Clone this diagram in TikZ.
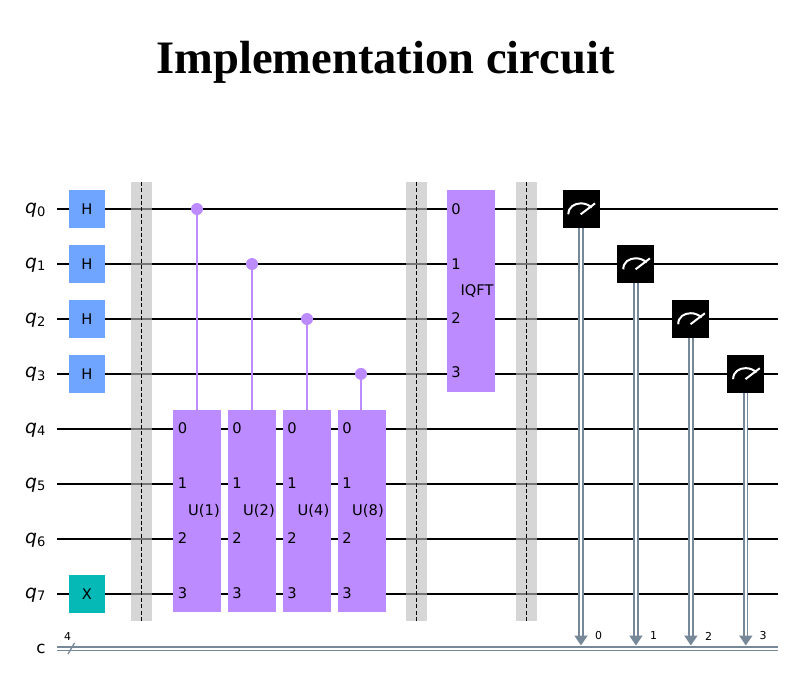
\documentclass[tikz,border=0pt]{standalone}
\usepackage{xcolor}
\usepackage{fontspec}
\usetikzlibrary{arrows.meta}
\setmainfont{DejaVu Sans}
\newfontfamily\titlefont{Liberation Serif}
\definecolor{QHadamard}{HTML}{6FA4FF}
\definecolor{QNot}{HTML}{05BAB6}
\definecolor{QCustom}{HTML}{BB8BFF}
\definecolor{QBarrier}{HTML}{BDBDBD}
\definecolor{QClassical}{HTML}{778899}
\tikzset{
    wire/.style={black, line width=1.6pt},
    classical/.style={QClassical, line width=1.45pt, double=white, double distance=1.05pt},
    qlabel/.style={anchor=east, inner xsep=8pt, inner ysep=0pt, text height=10pt, text depth=4pt, font=\fontsize{14}{16}\selectfont},
    gatebox/.style={minimum width=27pt, minimum height=28.5pt, inner sep=0pt, font=\fontsize{11}{13}\selectfont},
    ubox/.style={fill=QCustom, minimum width=36pt, minimum height=151.5pt, inner sep=0pt},
    port/.style={inner sep=0pt, font=\fontsize{11}{13}\selectfont},
    ctrldot/.style={circle, fill=QCustom, minimum size=9pt, inner sep=0pt},
    ctrlline/.style={QCustom, line width=2pt},
    barrier/.style={fill=QBarrier, fill opacity=0.62, minimum width=15.75pt, minimum height=329.25pt, inner sep=0pt},
    barrierline/.style={black, line width=0.9pt, dash pattern=on 3pt off 1.8pt},
    meterbox/.style={fill=black, minimum width=27.75pt, minimum height=28.5pt, inner sep=0pt,
        path picture={\draw[white, line width=1.5pt] ([shift={(-9.5pt,-4pt)}]path picture bounding box.center)
                .. controls ([shift={(-9.5pt,1.5pt)}]path picture bounding box.center) and ([shift={(-5pt,4.25pt)}]path picture bounding box.center) .. ([shift={(0pt,4.25pt)}]path picture bounding box.center)
                .. controls ([shift={(3pt,4.25pt)}]path picture bounding box.center) and ([shift={(6pt,3pt)}]path picture bounding box.center) .. ([shift={(8pt,1pt)}]path picture bounding box.center);
            \draw[white, line width=1.5pt] ([shift={(-0.25pt,-4pt)}]path picture bounding box.center) -- ([shift={(10.5pt,4.2pt)}]path picture bounding box.center);}},
    measline/.style={classical, -{Triangle[width=9.75pt, length=7.5pt]}},
    smalltext/.style={inner sep=0pt, font=\fontsize{8.2}{10}\selectfont}
}
\begin{document}
\begin{tikzpicture}[x=0.75pt, y=-0.75pt, node distance=41.2pt]
    \useasboundingbox (0,0) rectangle (792,675);

    \node (title) at (385.5,62) [inner sep=0pt, font=\titlefont\bfseries\fontsize{34.9}{40}\selectfont] {Implementation circuit};

    % qubit labels
    \node (q0) [qlabel] at (57,209) {\textit{q}\textsubscript{0}};
    \node (q1) [qlabel] at (57,264) {\textit{q}\textsubscript{1}};
    \node (q2) [qlabel] at (57,319) {\textit{q}\textsubscript{2}};
    \node (q3) [qlabel] at (57,373.9) {\textit{q}\textsubscript{3}};
    \node (q4) [qlabel] at (57,429) {\textit{q}\textsubscript{4}};
    \node (q5) [qlabel] at (57,484) {\textit{q}\textsubscript{5}};
    \node (q6) [qlabel] at (57,539) {\textit{q}\textsubscript{6}};
    \node (q7) [qlabel] at (57,594) {\textit{q}\textsubscript{7}};
    \node (c) [inner sep=0pt, font=\fontsize{12.5}{15}\selectfont] at (41,649) {c};

    % wire ends
    \coordinate (q0end) at (778,209);
    \coordinate (q1end) at (778,264);
    \coordinate (q2end) at (778,319);
    \coordinate (q3end) at (778,373.9);
    \coordinate (q4end) at (778,429);
    \coordinate (q5end) at (778,484);
    \coordinate (q6end) at (778,539);
    \coordinate (q7end) at (778,594);
    \coordinate (cstart) at (57,648.8);
    \coordinate (cend) at (778,648.8);

    \draw[wire] (q0.east) -- (q0end);
    \draw[wire] (q1.east) -- (q1end);
    \draw[wire] (q2.east) -- (q2end);
    \draw[wire] (q3.east) -- (q3end);
    \draw[wire] (q4.east) -- (q4end);
    \draw[wire] (q5.east) -- (q5end);
    \draw[wire] (q6.east) -- (q6end);
    \draw[wire] (q7.east) -- (q7end);
    \draw[classical] (cstart) -- (cend);

    % classical register width
    \coordinate (slashbottom) at (68,654);
    \coordinate (slashtop) at (74.5,643);
    \draw[QClassical, line width=1pt] (slashbottom) -- (slashtop);
    \node (cwidth) [smalltext] at (67.5,636.5) {4};

    % gates
    \node (H0) [gatebox, fill=QHadamard] at (87,209) {H};
    \node (H1) [gatebox, fill=QHadamard, below of=H0] {H};
    \node (H2) [gatebox, fill=QHadamard, below of=H1] {H};
    \node (H3) [gatebox, fill=QHadamard, below of=H2] {H};
    \node (X7) [gatebox, fill=QNot] at (87,594) {X};

    % controlled unitaries
    \node (U1) [ubox] at (197,511) {};
    \node (U2) [ubox, right of=U1] {};
    \node (U3) [ubox, right of=U2] {};
    \node (U4) [ubox, right of=U3] {};
    \node (ctrl0) [ctrldot] at (197,209) {};
    \node (ctrl1) [ctrldot] at (252,264) {};
    \node (ctrl2) [ctrldot] at (307,319) {};
    \node (ctrl3) [ctrldot] at (361,373.9) {};
    \draw[ctrlline] (ctrl0) -- (ctrl0 |- U1.north);
    \draw[ctrlline] (ctrl1) -- (ctrl1 |- U2.north);
    \draw[ctrlline] (ctrl2) -- (ctrl2 |- U3.north);
    \draw[ctrlline] (ctrl3) -- (ctrl3 |- U4.north);

    \node (U1p0) [port] at (182.5,428.5) {0};
    \node (U1p1) [port] at (182.5,483.5) {1};
    \node (U1p2) [port] at (182.5,538.5) {2};
    \node (U1p3) [port] at (182.5,593.5) {3};
    \node (U2p0) [port] at (237,428.5) {0};
    \node (U2p1) [port] at (237,483.5) {1};
    \node (U2p2) [port] at (237,538.5) {2};
    \node (U2p3) [port] at (237,593.5) {3};
    \node (U3p0) [port] at (292,428.5) {0};
    \node (U3p1) [port] at (292,483.5) {1};
    \node (U3p2) [port] at (292,538.5) {2};
    \node (U3p3) [port] at (292,593.5) {3};
    \node (U4p0) [port] at (347,428.5) {0};
    \node (U4p1) [port] at (347,483.5) {1};
    \node (U4p2) [port] at (347,538.5) {2};
    \node (U4p3) [port] at (347,593.5) {3};
    \node (U1name) [port] at (204,510.5) {U(1)};
    \node (U2name) [port] at (259,510.5) {U(2)};
    \node (U3name) [port] at (313.5,510.5) {U(4)};
    \node (U4name) [port] at (368,510.5) {U(8)};

    % inverse QFT
    \node (IQFT) [ubox, minimum height=151.5pt] at (471.2,291) {};
    \node (IQFTp0) [port] at (456,209.5) {0};
    \node (IQFTp1) [port] at (456,264.5) {1};
    \node (IQFTp2) [port] at (456,318.5) {2};
    \node (IQFTp3) [port] at (456,372.5) {3};
    \node (IQFTname) [port] at (477,291) {IQFT};

    % barriers
    \node (B0) [barrier] at (141.5,401.5) {};
    \node (B1) [barrier] at (416.5,401.5) {};
    \node (B2) [barrier] at (526.5,401.5) {};
    \draw[barrierline] (B0.north) -- (B0.south);
    \draw[barrierline] (B1.north) -- (B1.south);
    \draw[barrierline] (B2.north) -- (B2.south);

    % measurements
    \node (M0) [meterbox] at (581,209) {};
    \node (M1) [meterbox, below of=M0, xshift=41.2pt] {};
    \node (M2) [meterbox, below of=M1, xshift=41.2pt] {};
    \node (M3) [meterbox, below of=M2, xshift=41.2pt] {};
    \coordinate (tiprow) at (0,645.5);
    \coordinate (tip0) at (M0.south |- tiprow);
    \coordinate (tip1) at (M1.south |- tiprow);
    \coordinate (tip2) at (M2.south |- tiprow);
    \coordinate (tip3) at (M3.south |- tiprow);
    \draw[measline] (M0.south) -- (tip0);
    \draw[measline] (M1.south) -- (tip1);
    \draw[measline] (M2.south) -- (tip2);
    \draw[measline] (M3.south) -- (tip3);
    \node (bit0) [smalltext] at (598.5,636) {0};
    \node (bit1) [smalltext] at (653.5,636) {1};
    \node (bit2) [smalltext] at (708.5,636) {2};
    \node (bit3) [smalltext] at (763,636) {3};
\end{tikzpicture}
\end{document}
